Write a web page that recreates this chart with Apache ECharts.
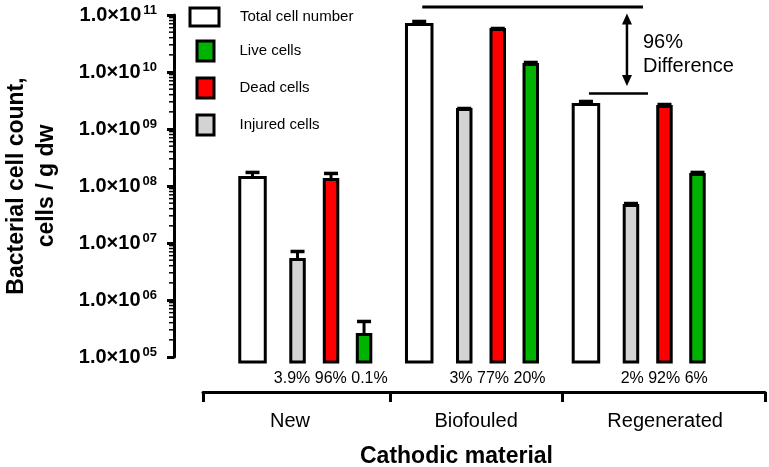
<!DOCTYPE html>
<html><head><meta charset="utf-8">
<script src="https://cdn.jsdelivr.net/npm/echarts@6/dist/echarts.min.js"></script>
<style>html,body{margin:0;padding:0;background:#fff}#c{width:769px;height:467px}</style>
</head><body><div id="c"></div>
<script>
// ---- data ----
const groups = ['New', 'Biofouled', 'Regenerated'];
const totalCells   = [1.41e8, 6.8e10, 2.69e9];
const totalErr     = [0.32e8, 0.9e10, 0.35e9];
const liveCells    = [2.48e5, 1.36e10, 1.59e8];
const liveErr      = [1.72e5, 0.11e10, 0.14e8];
const deadCells    = [1.30e8, 5.57e10, 2.48e9];
const deadErr      = [0.36e8, 0.23e10, 0.21e9];
const injuredCells = [5.14e6, 2.2e9, 4.55e7];
const injuredErr   = [1.96e6, 0.09e9, 0.38e7];
const injuredPct = ['3.9%', '3%', '2%'];
const deadPct    = ['96%', '77%', '92%'];
const livePct    = ['0.1%', '20%', '6%'];
const yTickValues = [1e5, 1e6, 1e7, 1e8, 1e9, 1e10, 1e11];
const minorMultipliers = [2, 3, 4, 5, 6, 7, 8, 9];
const annotationText = ['96%', 'Difference'];

// ---- layout / style ----
const FONT = '"Liberation Sans", Arial, Helvetica, sans-serif';
const Y_MIN = 1e5, Y_MAX = 1e11;
const Y_OFFSET = 29;
const barCfg = {
  'Total cell number': {off: -0.315, w: 25.5, color: '#ffffff'},
  'Injured cells':     {off: -0.045, w: 13.5, color: '#d3d3d3'},
  'Dead cells':        {off: 0.156,  w: 13.5, color: '#ff0000'},
  'Live cells':        {off: 0.354,  w: 13.5, color: '#00b300'}
};

function barRender(name) {
  const cfg = barCfg[name];
  return function (params, api) {
    const i = api.value(0), v = api.value(1), e = api.value(2);
    const xv = i + cfg.off;
    const p = api.coord([xv, v]);
    const base = api.coord([xv, Y_MIN])[1] + 5;
    const cap = api.coord([xv, v + e])[1];
    const x = p[0], w = cfg.w;
    return {type: 'group', children: [
      {type: 'rect', shape: {x: x - w / 2, y: p[1], width: w, height: base - p[1]},
       style: {fill: cfg.color, stroke: '#000', lineWidth: 3}},
      {type: 'line', shape: {x1: x, y1: p[1], x2: x, y2: cap}, style: {stroke: '#000', lineWidth: 3}},
      {type: 'line', shape: {x1: x - 7, y1: cap, x2: x + 7, y2: cap}, style: {stroke: '#000', lineWidth: 3.5}}
    ]};
  };
}

function barSeries(name, vals, errs) {
  return {
    type: 'custom', name: name, clip: false,
    itemStyle: {color: barCfg[name].color, borderColor: '#000', borderWidth: 3},
    encode: {x: 0, y: 1},
    data: vals.map((v, i) => [i, v, errs[i]]),
    renderItem: barRender(name), z: 3
  };
}

const minorData = [];
for (let d = 5; d < 11; d++) minorMultipliers.forEach(k => minorData.push([0, k * Math.pow(10, d)]));

const option = {
  animation: false,
  backgroundColor: '#fff',
  grid: {left: 203, right: 4, top: 15, bottom: 110, containLabel: false, outerBoundsMode: 'none'},
  legend: [
    {data: ['Total cell number'], left: 188.5, top: 6.5, padding: 0, itemWidth: 29, itemHeight: 18,
     icon: 'rect', selectedMode: false, itemStyle: {borderColor: '#000', borderWidth: 3},
     textStyle: {fontSize: 15, color: '#000', fontFamily: FONT, padding: [0, 0, 0, 16]}},
    {data: ['Live cells', 'Dead cells', 'Injured cells'], orient: 'vertical', left: 195.5, top: 39.5,
     padding: 0, itemWidth: 17, itemHeight: 20, itemGap: 14, icon: 'rect', selectedMode: false,
     itemStyle: {borderColor: '#000', borderWidth: 3},
     textStyle: {fontSize: 15, color: '#000', fontFamily: FONT, padding: [0, 0, 0, 20.5]}}
  ],
  xAxis: {
    type: 'value', min: -0.612, max: 2.759, offset: 35,
    axisLine: {show: true, onZero: false, lineStyle: {color: '#000', width: 3}},
    axisTick: {show: true, customValues: [-0.612, 0.51, 1.542, 2.759], length: 10, lineStyle: {color: '#000', width: 3}},
    axisLabel: {customValues: [-0.09, 1.026, 2.16], formatter: v => groups[Math.round(v)],
      margin: 19, fontSize: 20, color: '#000', fontFamily: FONT},
    splitLine: {show: false},
    name: 'Cathodic material', nameLocation: 'middle', nameGap: 53,
    nameTextStyle: {fontSize: 23, fontWeight: 'bold', color: '#000', fontFamily: FONT, padding: [0, 55, 0, 0]}
  },
  yAxis: {
    type: 'log', logBase: 10, min: Y_MIN, max: Y_MAX, offset: Y_OFFSET,
    axisLine: {show: true, onZero: false, lineStyle: {color: '#000', width: 3}},
    axisTick: {show: true, customValues: yTickValues, length: 7, lineStyle: {color: '#000', width: 3}},
    minorTick: {show: false}, splitLine: {show: false},
    axisLabel: {
      customValues: yTickValues, margin: 17,
      formatter: v => '{a|1.0\u00d710}{b|' + String(Math.round(Math.log10(v))).padStart(2, '0') + '}',
      rich: {
        a: {fontSize: 20, fontWeight: 'bold', color: '#000', fontFamily: FONT, lineHeight: 22},
        b: {fontSize: 13, fontWeight: 'bold', color: '#000', fontFamily: FONT, lineHeight: 13,
            verticalAlign: 'top', padding: [0, 0, 0, 2]}
      }
    },
    name: 'Bacterial cell count,\ncells / g dw', nameLocation: 'middle', nameGap: 112, nameRotate: 90,
    nameTextStyle: {fontSize: 23, fontWeight: 'bold', color: '#000', fontFamily: FONT, lineHeight: 30}
  },
  series: [
    barSeries('Total cell number', totalCells, totalErr),
    barSeries('Live cells', liveCells, liveErr),
    barSeries('Dead cells', deadCells, deadErr),
    barSeries('Injured cells', injuredCells, injuredErr),
    {
      type: 'custom', name: 'pct', clip: false, encode: {x: 0, y: 1},
      data: groups.map((g, i) => [i, Y_MIN]),
      renderItem: function (params, api) {
        const i = api.value(0);
        const a = api.coord([i + barCfg['Injured cells'].off, api.value(1)]);
        const b = api.coord([i + barCfg['Live cells'].off, api.value(1)]);
        return {type: 'text', x: (a[0] + b[0]) / 2, y: a[1] + 22,
          style: {text: [injuredPct[i], deadPct[i], livePct[i]].join(' '), fontSize: 16, fontFamily: FONT,
            fill: '#000', align: 'center', verticalAlign: 'middle'}};
      }
    },
    {
      type: 'custom', name: 'minor', clip: false, encode: {x: 0, y: 1}, silent: true,
      data: minorData,
      renderItem: function (params, api) {
        const y = api.coord([0, api.value(1)])[1];
        const ax = params.coordSys.x - Y_OFFSET;
        return {type: 'line', shape: {x1: ax - 5, y1: y, x2: ax, y2: y}, style: {stroke: '#000', lineWidth: 1.5}};
      }
    },
    {
      type: 'custom', name: 'annotation', clip: false, encode: {x: 0, y: 1}, silent: true,
      data: [[1, totalCells[1] + totalErr[1], 2, totalCells[2] + totalErr[2]]],
      renderItem: function (params, api) {
        const topY = api.coord([1, api.value(1)])[1] - 14.5;
        const lowY = api.coord([2, api.value(3)])[1] - 8;
        const tx1 = api.coord([1 - 0.297, api.value(1)])[0];
        const tx2 = api.coord([2 + 0.027, api.value(1)])[0];
        const lx1 = api.coord([2 - 0.297, api.value(3)])[0];
        const lx2 = api.coord([2 + 0.057, api.value(3)])[0];
        const ax = api.coord([2 - 0.069, api.value(3)])[0];
        const t1 = topY + 6.5, t2 = lowY - 7.5;
        return {type: 'group', children: [
          {type: 'line', shape: {x1: tx1, y1: topY, x2: tx2, y2: topY}, style: {stroke: '#000', lineWidth: 3}},
          {type: 'line', shape: {x1: lx1, y1: lowY, x2: lx2, y2: lowY}, style: {stroke: '#000', lineWidth: 2.5}},
          {type: 'line', shape: {x1: ax, y1: t1 + 8, x2: ax, y2: t2 - 8}, style: {stroke: '#000', lineWidth: 2.5}},
          {type: 'polygon', shape: {points: [[ax - 5, t1 + 11], [ax + 5, t1 + 11], [ax, t1]]}, style: {fill: '#000'}},
          {type: 'polygon', shape: {points: [[ax - 5, t2 - 11], [ax + 5, t2 - 11], [ax, t2]]}, style: {fill: '#000'}},
          {type: 'text', x: ax + 16, y: topY + 24,
           style: {text: annotationText.join('\n'), fontSize: 20, lineHeight: 24, fontFamily: FONT, fill: '#000',
             align: 'left', verticalAlign: 'top'}}
        ]};
      }
    }
  ]
};
const chart = echarts.init(document.getElementById('c'), null, {renderer: 'canvas'});
chart.setOption(option);
</script></body></html>
